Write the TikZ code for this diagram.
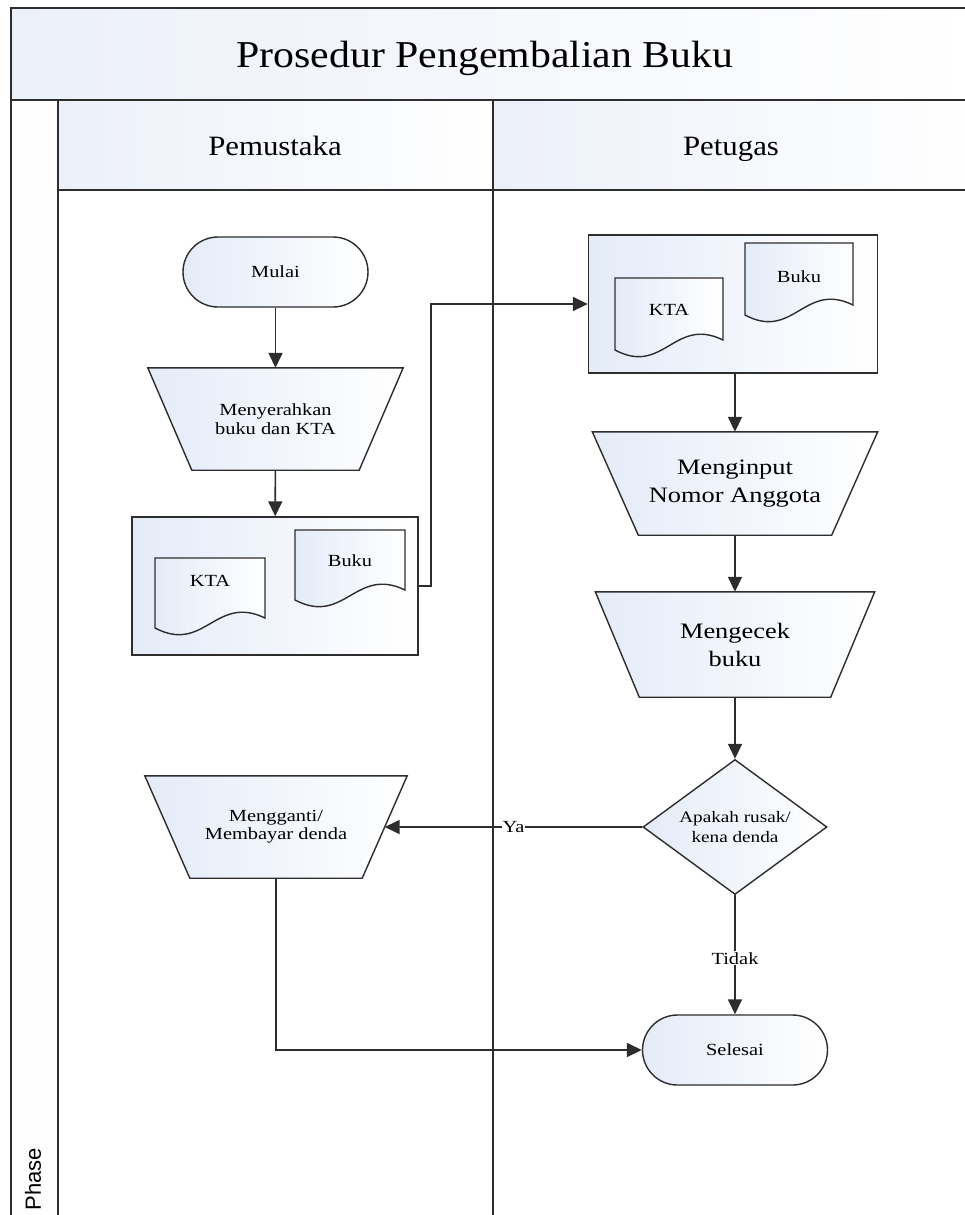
\documentclass[tikz,border=0pt]{standalone}
\usepackage{fontspec}
\setmainfont{Liberation Serif}
\newfontfamily\wf[FakeStretch=1.2]{Liberation Serif}
\newfontfamily\hf[FakeStretch=1.1]{Liberation Serif}
\newfontfamily\phasefont{Liberation Sans}
\usetikzlibrary{arrows.meta,shapes.geometric,calc}
\pgfdeclarelayer{pool}
\pgfdeclarelayer{background}
\pgfsetlayers{pool,background,main}
\definecolor{lb}{RGB}{228,235,248}
\definecolor{hdr}{RGB}{236,240,249}
\definecolor{ln}{RGB}{45,45,45}
\tikzset{
  frame/.style={draw=ln,line width=1.8pt},
  shp/.style={draw=ln,line width=1.4pt,left color=lb,right color=white},
  conn/.style={draw=ln,line width=1.6pt},
  arr/.style={conn,-{Triangle[length=15pt,width=14pt]}},
  term/.style={shp,rectangle,rounded corners=35pt,minimum width=185pt,minimum height=70pt,font=\wf\fontsize{17}{20}\selectfont},
  trapbox/.style={rectangle,inner sep=0pt,align=center},
  lbl/.style={fill=white,inner sep=1pt,font=\wf\fontsize{17}{20}\selectfont},
}
% trapezoid: #1 node name, #2 inset
\newcommand\trapdraw[2]{%
  \begin{pgfonlayer}{background}
  \path[shp] (#1.north west) -- (#1.north east) -- ([xshift=-#2pt]#1.south east)
     -- ([xshift=#2pt]#1.south west) -- cycle;
  \end{pgfonlayer}
  \coordinate (#1-r) at ($(#1.north east)!0.5!([xshift=-#2pt]#1.south east)$);
}
% document shape: #1 left, #2 top, #3 width, #4 height
\newcommand\docdraw[4]{%
  \pgfmathsetmacro\dR{#1+#3}\pgfmathsetmacro\dB{#2+#4}%
  \pgfmathsetmacro\cA{#1+0.45*#3}\pgfmathsetmacro\cB{#1+0.55*#3}%
  \path[shp] (#1,#2) -- (\dR,#2) -- (\dR,\dB-10) .. controls (\cB,\dB-34) and (\cA,\dB+26) .. (#1,\dB) -- cycle;
}
\begin{document}
\begin{tikzpicture}[x=1pt,y=-1pt]
\useasboundingbox (0,0) rectangle (964,1215);
\clip (0,0) rectangle (964,1215);
\begin{pgfonlayer}{pool}
\fill[white] (0,0) rectangle (964,1215);
\shade[left color=hdr,right color=white] (11,8) rectangle (980,100);
\fill[white!96!lb] (11,100) rectangle (58,1230);
\shade[left color=hdr,right color=white] (58,100) rectangle (493,190);
\shade[left color=hdr,right color=white] (493,100) rectangle (980,190);
\draw[frame] (980,8) -- (11,8) -- (11,1230);
\draw[frame] (11,100) -- (980,100);
\draw[frame] (58,100) -- (58,1230);
\draw[frame] (493,100) -- (493,1230);
\draw[frame] (58,190) -- (980,190);
\end{pgfonlayer}
\node[anchor=base,font=\hf\fontsize{38}{42}\selectfont] (title) at (485,67) {Prosedur Pengembalian Buku};
\node[anchor=base,font=\hf\fontsize{28}{32}\selectfont] (laneA) at (275,155) {Pemustaka};
\node[anchor=base,font=\hf\fontsize{28}{32}\selectfont] (laneB) at (731,155) {Petugas};
\node[rotate=90,anchor=west,font=\phasefont\fontsize{22}{24}\selectfont] (phase) at (33,1214) {Phase};

% left lane
\node[term] (mulai) at (275.5,272) {Mulai};
\node[trapbox,minimum width=255pt,minimum height=102pt,font=\wf\fontsize{17}{19}\selectfont] (serah) at (275.5,419) {Menyerahkan\\buku dan KTA};
\trapdraw{serah}{44}
\node[shp,rectangle,minimum width=286pt,minimum height=138pt] (boxL) at (275,586) {};
\docdraw{155}{558}{110}{70}
\node[font=\wf\fontsize{17}{20}\selectfont] (ktaL) at (210,581) {KTA};
\docdraw{295}{530}{110}{70}
\node[font=\wf\fontsize{17}{20}\selectfont] (bukuL) at (350,561) {Buku};

% right lane
\node[shp,rectangle,minimum width=289pt,minimum height=138pt] (boxR) at (733,304) {};
\docdraw{615}{278}{108}{72}
\node[font=\wf\fontsize{17}{20}\selectfont] (ktaR) at (669,310) {KTA};
\docdraw{745}{243}{108}{72}
\node[font=\wf\fontsize{17}{20}\selectfont] (bukuR) at (799,277) {Buku};

\node[trapbox,minimum width=285pt,minimum height=103pt,font=\wf\fontsize{22}{28}\selectfont] (input) at (735,483.5) {Menginput\\Nomor Anggota};
\trapdraw{input}{46}
\node[trapbox,minimum width=279pt,minimum height=105pt,font=\wf\fontsize{22}{28}\selectfont] (cek) at (735,644.5) {Mengecek\\buku};
\trapdraw{cek}{44}
\node[shp,diamond,aspect=1.36,inner sep=0pt,minimum width=184pt,minimum height=135pt,align=center,font=\wf\fontsize{16}{20}\selectfont] (dec) at (735,827) {Apakah rusak/\\kena denda};
\node[trapbox,minimum width=262pt,minimum height=102pt,font=\wf\fontsize{17}{18}\selectfont] (ganti) at (276,827) {Mengganti/\\Membayar denda};
\trapdraw{ganti}{45}
\node[term] (selesai) at (735,1050) {Selesai};

% connectors
\draw[arr] (mulai) -- (serah);
\draw[arr] (serah) -- (boxL);
\draw[arr] (boxL.east) -- ++(12,0) |- (boxR.west);
\draw[arr] (boxR.south -| input.north) -- (input);
\draw[arr] (input) -- (cek);
\draw[arr] (cek) -- (dec);
\draw[arr] (dec.west) -- node[lbl,pos=0.5] (ya) {Ya} (ganti-r);
\draw[arr] (dec.south) -- node[lbl,pos=0.53] (tidak) {Tidak} (selesai.north);
\draw[arr] (ganti.south) |- (selesai.west);
\end{tikzpicture}
\end{document}
